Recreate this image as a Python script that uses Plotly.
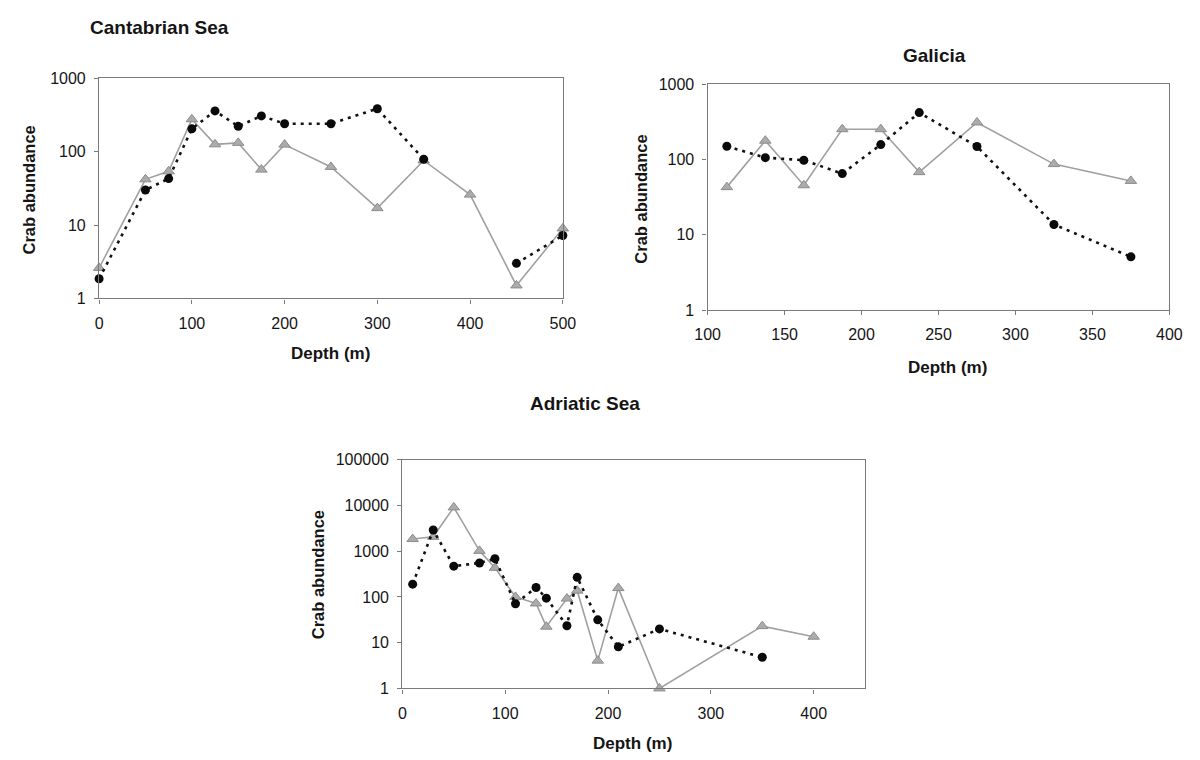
import plotly.graph_objects as go

# Cantabrian Sea
cant_depth = [0, 50, 75, 100, 125, 150, 175, 200, 250, 300, 350, 400, 450, 500]
cant_circle = [1.85, 30, 43, 205, 360, 222, 308, 241, 241, 386, 79, None, 3.0, 7.2]
cant_triangle = [2.6, 42, 54, 277, 126, 132, 57, 125, 62, 17, 76, 26, 1.5, 9]

# Galicia
gal_depth = [112.5, 137.5, 162.5, 187.5, 212.5, 237.5, 275, 325, 375]
gal_circle = [150, 106, 98, 65, 158, 420, 149, 13.7, 5.1]
gal_triangle = [43, 178, 45.5, 253, 253, 68, 311, 87, 52]

# Adriatic Sea
adr_depth = [10, 30, 50, 75, 90, 110, 130, 140, 160, 170, 190, 210, 250, 350, 400]
adr_circle = [190, 2900, 470, 553, 685, 71, 161, 94, 23.5, 268, 31.6, 8.1, 20, 4.8, None]
adr_triangle = [1840, 2060, 9060, 1016, 432, 100, 72, 22.4, 92, 137, 4.05, 156, 1, 23, 13.5]

W, H = 1200, 760
FONT = "Liberation Sans, Arial, sans-serif"
AXIS_GREY = "#7a7a7a"
TEXT = "#151515"


def px_x(a, b):
    return [a / W, b / W]


def px_y(top, bottom):
    return [1 - bottom / H, 1 - top / H]


panels = [
    dict(name="Cantabrian Sea", depth=cant_depth, circ=cant_circle, tri=cant_triangle,
         xd=px_x(88, 562), yd=px_y(72, 297), xr=[0, 500], xt=[0, 100, 200, 300, 400, 500],
         yt=[1, 10, 100, 1000], yr=[0, 3],
         title=(150, 20), xtitle=(325, 353), ytitle=(16, 186)),
    dict(name="Galicia", depth=gal_depth, circ=gal_circle, tri=gal_triangle,
         xd=px_x(710, 1182), yd=px_y(78, 309), xr=[100, 400],
         xt=[100, 150, 200, 250, 300, 350, 400],
         yt=[1, 10, 100, 1000], yr=[0, 3],
         title=(942, 49), xtitle=(955, 368), ytitle=(642, 196)),
    dict(name="Adriatic Sea", depth=adr_depth, circ=adr_circle, tri=adr_triangle,
         xd=px_x(398, 871), yd=px_y(462, 696), xr=[0, 450], xt=[0, 100, 200, 300, 400],
         yt=[1, 10, 100, 1000, 10000, 100000], yr=[0, 5],
         title=(585, 405), xtitle=(633, 752), ytitle=(312, 580)),
]

fig = go.Figure()
annotations = []

for i, p in enumerate(panels, start=1):
    xa = "x" if i == 1 else f"x{i}"
    ya = "y" if i == 1 else f"y{i}"

    fig.add_trace(go.Scatter(
        x=p["depth"], y=p["tri"], xaxis=xa, yaxis=ya, mode="lines+markers",
        line=dict(color="#a0a0a0", width=1.6),
        marker=dict(symbol="triangle-up", size=10, color="#ababab",
                    line=dict(color="#8c8c8c", width=1)),
        cliponaxis=False, connectgaps=False, showlegend=False))
    fig.add_trace(go.Scatter(
        x=p["depth"], y=p["circ"], xaxis=xa, yaxis=ya, mode="lines+markers",
        line=dict(color="#111111", width=2.6, dash="3px,5px"),
        marker=dict(symbol="circle", size=9, color="#0a0a0a"),
        cliponaxis=False, connectgaps=False, showlegend=False))

    axis_common = dict(showline=True, linecolor=AXIS_GREY, linewidth=1.3, mirror=True,
                       showgrid=False, zeroline=False, ticks="outside", ticklen=4,
                       tickcolor=AXIS_GREY, tickwidth=1,
                       tickfont=dict(family=FONT, size=16, color=TEXT))
    fig.update_layout(**{
        ("xaxis" if i == 1 else f"xaxis{i}"): dict(
            domain=p["xd"], anchor=ya, range=p["xr"], tickmode="array",
            tickvals=p["xt"], ticktext=[str(v) for v in p["xt"]],
            ticklabelstandoff=6, **axis_common),
        ("yaxis" if i == 1 else f"yaxis{i}"): dict(
            domain=p["yd"], anchor=xa, type="log", range=p["yr"], tickmode="array",
            tickvals=p["yt"], ticktext=[str(v) for v in p["yt"]],
            ticklabelstandoff=5, **axis_common),
    })

    tx, ty = p["title"]
    annotations.append(dict(text=f"<b>{p['name']}</b>", x=tx / W, y=1 - ty / H,
                            xref="paper", yref="paper", showarrow=False,
                            xanchor="center", yanchor="middle",
                            font=dict(family=FONT, size=19, color=TEXT)))
    dx, dy = p["xtitle"]
    annotations.append(dict(text="<b>Depth (m)</b>", x=dx / W, y=1 - dy / H,
                            xref="paper", yref="paper", showarrow=False,
                            xanchor="center", yanchor="middle",
                            font=dict(family=FONT, size=17, color=TEXT)))
    cx, cy = p["ytitle"]
    annotations.append(dict(text="<b>Crab abundance</b>", x=cx / W, y=1 - cy / H,
                            xref="paper", yref="paper", showarrow=False, textangle=-90,
                            xanchor="center", yanchor="middle",
                            font=dict(family=FONT, size=16.5, color=TEXT)))

fig.update_layout(width=W, height=H, margin=dict(l=0, r=0, t=0, b=0),
                  paper_bgcolor="white", plot_bgcolor="white",
                  annotations=annotations, showlegend=False)

fig.write_html("out.html")
